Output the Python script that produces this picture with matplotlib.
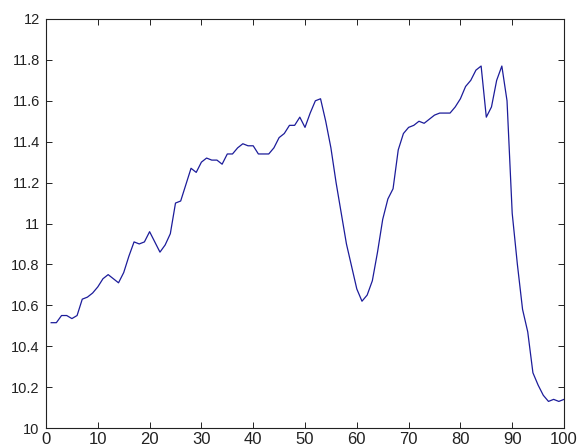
import matplotlib
matplotlib.use("Agg")
import matplotlib.pyplot as plt
import numpy as np

# Series sampled at x = 1..100
x = list(range(1, 101))
y = [
    10.515, 10.515, 10.55, 10.55, 10.535, 10.55, 10.63, 10.64, 10.66, 10.69,
    10.73, 10.75, 10.73, 10.71, 10.76, 10.84, 10.91, 10.90, 10.91, 10.96,
    10.91, 10.86, 10.895, 10.95, 11.10, 11.11, 11.19, 11.27, 11.25, 11.30,
    11.32, 11.31, 11.31, 11.29, 11.34, 11.34, 11.37, 11.39, 11.38, 11.38,
    11.34, 11.34, 11.34, 11.37, 11.42, 11.44, 11.48, 11.48, 11.52, 11.47,
    11.54, 11.60, 11.61, 11.50, 11.37, 11.20, 11.05, 10.90, 10.79, 10.68,
    10.62, 10.65, 10.72, 10.86, 11.02, 11.12, 11.17, 11.36, 11.44, 11.47,
    11.48, 11.50, 11.49, 11.51, 11.53, 11.54, 11.54, 11.54, 11.57, 11.61,
    11.67, 11.70, 11.75, 11.77, 11.52, 11.57, 11.70, 11.77, 11.60, 11.05,
    10.80, 10.58, 10.47, 10.27, 10.21, 10.16, 10.13, 10.14, 10.13, 10.14,
]

x_ticks = list(range(0, 101, 10))
y_ticks = [10, 10.2, 10.4, 10.6, 10.8, 11, 11.2, 11.4, 11.6, 11.8, 12]
y_tick_labels = ["10", "10.2", "10.4", "10.6", "10.8", "11", "11.2", "11.4",
                 "11.6", "11.8", "12"]

plt.rcParams["font.family"] = ["Liberation Sans", "DejaVu Sans"]

fig = plt.figure(figsize=(5.77, 4.47), dpi=100)
ax = fig.add_axes([46 / 577, 19 / 447, 518 / 577, 409 / 447])

ax.plot(x, y, color="#1c1c9a", linewidth=0.9)

ax.set_xlim(0, 100)
ax.set_ylim(10, 12)
ax.set_xticks(x_ticks)
ax.set_yticks(y_ticks)
ax.set_yticklabels(y_tick_labels)

ax.tick_params(direction="in", top=True, right=True, length=4.5, width=0.7,
               colors="#222222")
ax.tick_params(axis="y", labelsize=10.5, pad=4.5)
ax.tick_params(axis="x", labelsize=12, pad=3)
for s in ax.spines.values():
    s.set_linewidth(0.8)
    s.set_color("#222222")

fig.savefig("out.png", dpi=100)
